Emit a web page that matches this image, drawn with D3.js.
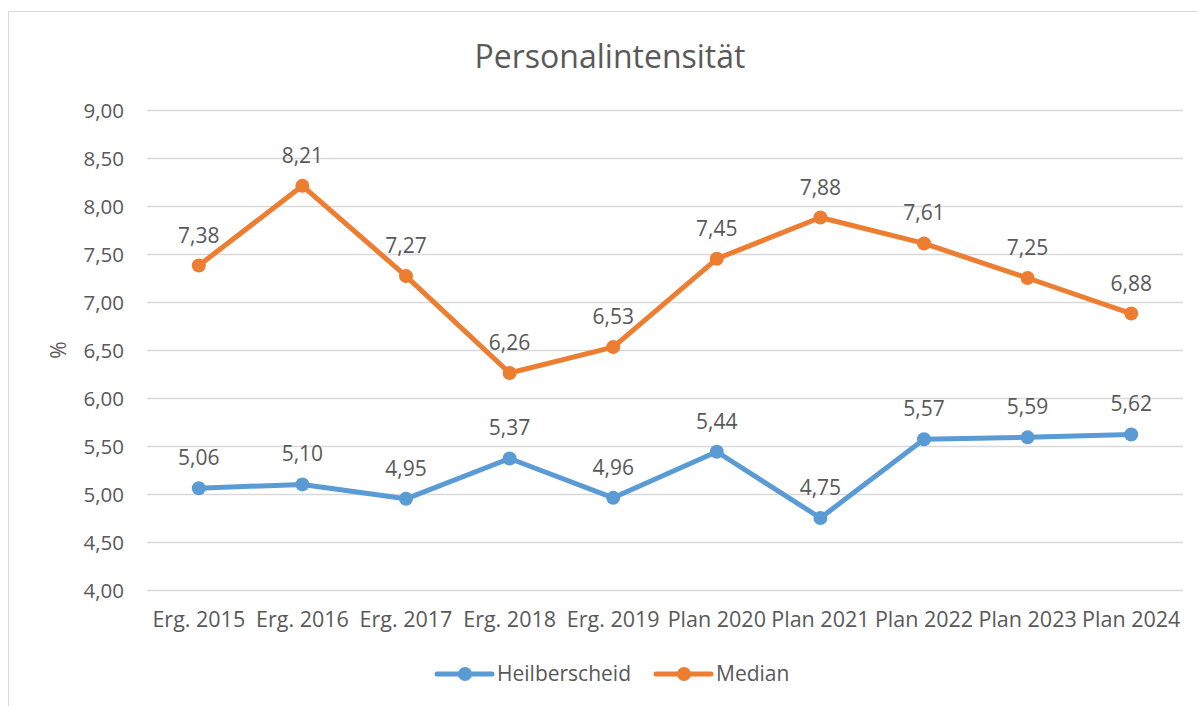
<!DOCTYPE html>
<html>
<head>
<meta charset="utf-8">
<script src="https://cdn.jsdelivr.net/npm/d3@7"></script>
<style>
  body { margin: 0; background: #fff; }
  svg text { font-family: "Open Sans", "Noto Sans", sans-serif; fill: #595959; }
</style>
</head>
<body>
<div id="chart"></div>
<script>
// chart data
var categories = ["Erg. 2015", "Erg. 2016", "Erg. 2017", "Erg. 2018", "Erg. 2019",
  "Plan 2020", "Plan 2021", "Plan 2022", "Plan 2023", "Plan 2024"];
var heilberscheid = [5.06, 5.10, 4.95, 5.37, 4.96, 5.44, 4.75, 5.57, 5.59, 5.62];
var median = [7.38, 8.21, 7.27, 6.26, 6.53, 7.45, 7.88, 7.61, 7.25, 6.88];
var yTicks = [4, 4.5, 5, 5.5, 6, 6.5, 7, 7.5, 8, 8.5, 9];
var seriesNames = ["Heilberscheid", "Median"];

var width = 1198, height = 706;
var plotLeft = 147, plotRight = 1183, plotTop = 110, plotBottom = 590;

var svg = d3.select("#chart").append("svg")
  .attr("width", width)
  .attr("height", height);

// outer chart frame
svg.append("rect")
  .attr("x", 8.5).attr("y", 11.5)
  .attr("width", 1200).attr("height", 720)
  .attr("fill", "none")
  .attr("stroke", "#d9d9d9");

var fmt = function (v) { return d3.format(".2f")(v).replace(".", ","); };

var x = d3.scaleBand().domain(categories).range([plotLeft, plotRight]);
var y = d3.scaleLinear().domain([4, 9]).range([plotBottom, plotTop]);

// gridlines
var yAxis = d3.axisLeft(y).tickValues(yTicks).tickFormat(fmt)
  .tickSize(-(plotRight - plotLeft)).tickPadding(23);
var yg = svg.append("g").attr("transform", "translate(" + plotLeft + ",0)").call(yAxis);
yg.select(".domain").remove();
yg.selectAll(".tick line").attr("stroke", "#d9d9d9").attr("stroke-width", 1.5);
yg.selectAll(".tick text").style("font-size", "20.5px").attr("dy", "0.35em");

var xAxis = d3.axisBottom(x).tickSize(0).tickPadding(22);
var xg = svg.append("g").attr("transform", "translate(0," + plotBottom + ")").call(xAxis);
xg.select(".domain").remove();
xg.selectAll(".tick text").style("font-size", "21.5px");

// title
svg.append("text")
  .attr("x", 610).attr("y", 68)
  .attr("text-anchor", "middle")
  .style("font-size", "32px")
  .text("Personalintensität");

// y axis label
svg.append("text")
  .attr("transform", "translate(66,350) rotate(-90)")
  .attr("text-anchor", "middle")
  .style("font-size", "21px")
  .text("%");

var colors = ["#5b9bd5", "#ed7d31"];
var series = [heilberscheid, median];

var line = d3.line()
  .x(function (d, i) { return x(categories[i]) + x.bandwidth() / 2; })
  .y(function (d) { return y(d); });

series.forEach(function (vals, s) {
  var g = svg.append("g");
  g.append("path")
    .datum(vals)
    .attr("d", line)
    .attr("fill", "none")
    .attr("stroke", colors[s])
    .attr("stroke-width", 5)
    .attr("stroke-linejoin", "round")
    .attr("stroke-linecap", "round");
  g.selectAll("circle")
    .data(vals)
    .enter()
    .append("circle")
    .attr("cx", function (d, i) { return x(categories[i]) + x.bandwidth() / 2; })
    .attr("cy", function (d) { return y(d); })
    .attr("r", 7)
    .attr("fill", colors[s]);
  g.selectAll("text")
    .data(vals)
    .enter()
    .append("text")
    .attr("x", function (d, i) { return x(categories[i]) + x.bandwidth() / 2; })
    .attr("y", function (d) { return y(d) - 23; })
    .attr("text-anchor", "middle")
    .style("font-size", "21px")
    .text(fmt);
});

// legend
var legendX = [437, 656];
seriesNames.forEach(function (name, s) {
  var lg = svg.append("g").attr("transform", "translate(" + legendX[s] + ",674)");
  lg.append("line")
    .attr("x1", 0).attr("x2", 55)
    .attr("stroke", colors[s])
    .attr("stroke-width", 5)
    .attr("stroke-linecap", "round");
  lg.append("circle").attr("cx", 28).attr("r", 7).attr("fill", colors[s]);
  lg.append("text")
    .attr("x", 60).attr("dy", "0.35em")
    .style("font-size", "21px")
    .text(name);
});
</script>
</body>
</html>
